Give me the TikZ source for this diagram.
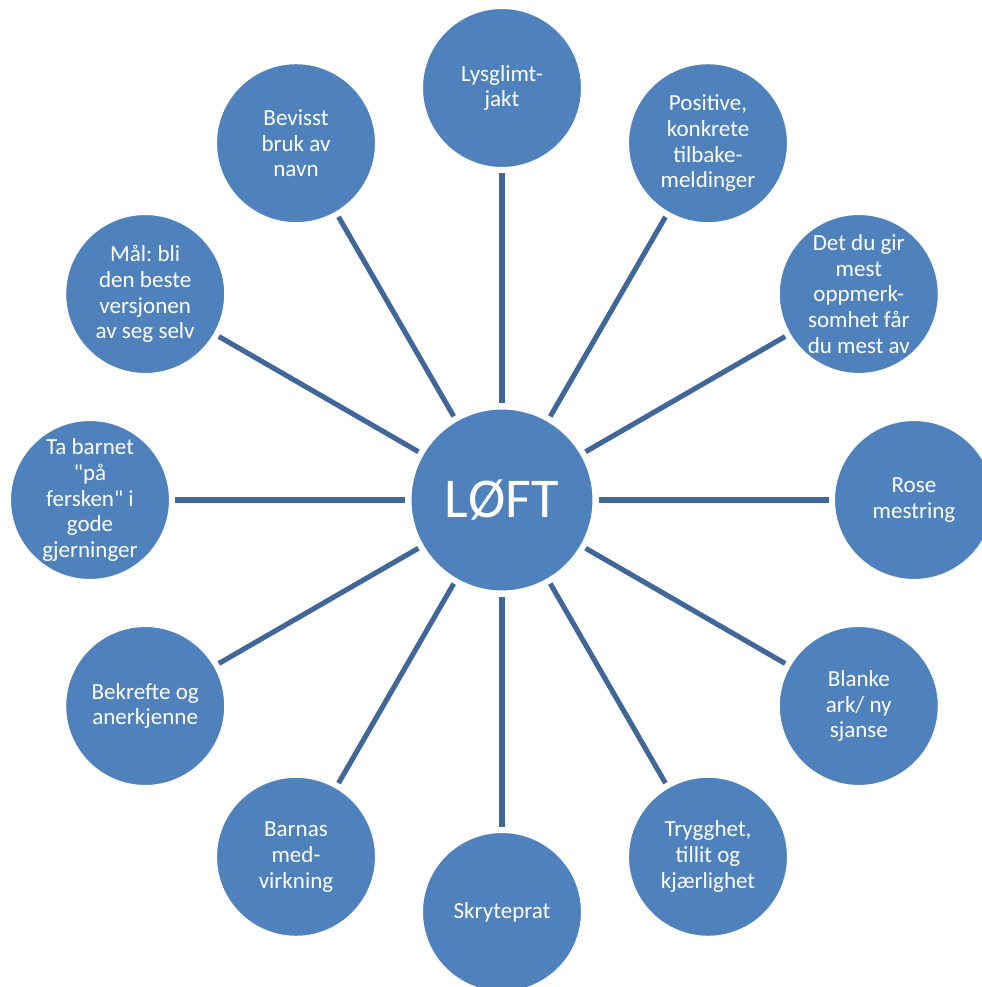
\documentclass[tikz,border=0pt]{standalone}
\usepackage{fontspec}
\setmainfont{Carlito}
\usepackage{xcolor}
\definecolor{circleblue}{RGB}{79,129,189}
\definecolor{spokeblue}{RGB}{65,103,152}
\frenchspacing

\begin{document}
\begin{tikzpicture}[
    idea/.style={circle, fill=circleblue, draw=white, line width=0.6pt, inner sep=0pt,
        minimum size=3.18cm, text=white, align=center, font=\fontsize{13.1}{14.7}\selectfont},
    hub/.style={idea, minimum size=3.64cm, font=\fontsize{32}{36}\selectfont},
    spoke/.style={spokeblue, line width=2.9pt, shorten <=0.1cm, shorten >=0.1cm}]
        % Frame
        \useasboundingbox (-10.04,-9.74) rectangle (9.60,10.00);
        \clip (-10.04,-9.74) rectangle (9.60,10.00);
        % Hub
        \node[hub] (loft) at (0,0) {LØFT};
        % Ideas
        \node[idea] (lysglimt) at (90:8.24) {Lysglimt-\\jakt};
        \node[idea] (positive) at (60:8.24) {Positive,\\konkrete\\tilbake-\\meldinger};
        \node[idea] (detdugir) at (30:8.24) {Det du gir\\mest\\oppmerk-\\somhet får\\du mest av};
        \node[idea] (rose) at (0:8.24) {Rose\\mestring};
        \node[idea] (blanke) at (-30:8.24) {Blanke\\ark/ ny\\sjanse};
        \node[idea] (trygghet) at (-60:8.24) {Trygghet,\\tillit og\\kjærlighet};
        \node[idea] (skryteprat) at (-90:8.24) {Skryteprat};
        \node[idea] (barnas) at (-120:8.24) {Barnas\\med-\\virkning};
        \node[idea] (bekrefte) at (-150:8.24) {Bekrefte og\\anerkjenne};
        \node[idea] (tabarnet) at (180:8.24) {Ta barnet\\\textquotedbl på\\fersken\textquotedbl{} i\\gode\\gjerninger};
        \node[idea] (maal) at (150:8.24) {Mål: bli\\den beste\\versjonen\\av seg selv};
        \node[idea] (bevisst) at (120:8.24) {Bevisst\\bruk av\\navn};
        % Spokes
        \draw[spoke] (loft) -- (lysglimt);
        \draw[spoke] (loft) -- (positive);
        \draw[spoke] (loft) -- (detdugir);
        \draw[spoke] (loft) -- (rose);
        \draw[spoke] (loft) -- (blanke);
        \draw[spoke] (loft) -- (trygghet);
        \draw[spoke] (loft) -- (skryteprat);
        \draw[spoke] (loft) -- (barnas);
        \draw[spoke] (loft) -- (bekrefte);
        \draw[spoke] (loft) -- (tabarnet);
        \draw[spoke] (loft) -- (maal);
        \draw[spoke] (loft) -- (bevisst);
\end{tikzpicture}
\end{document}
